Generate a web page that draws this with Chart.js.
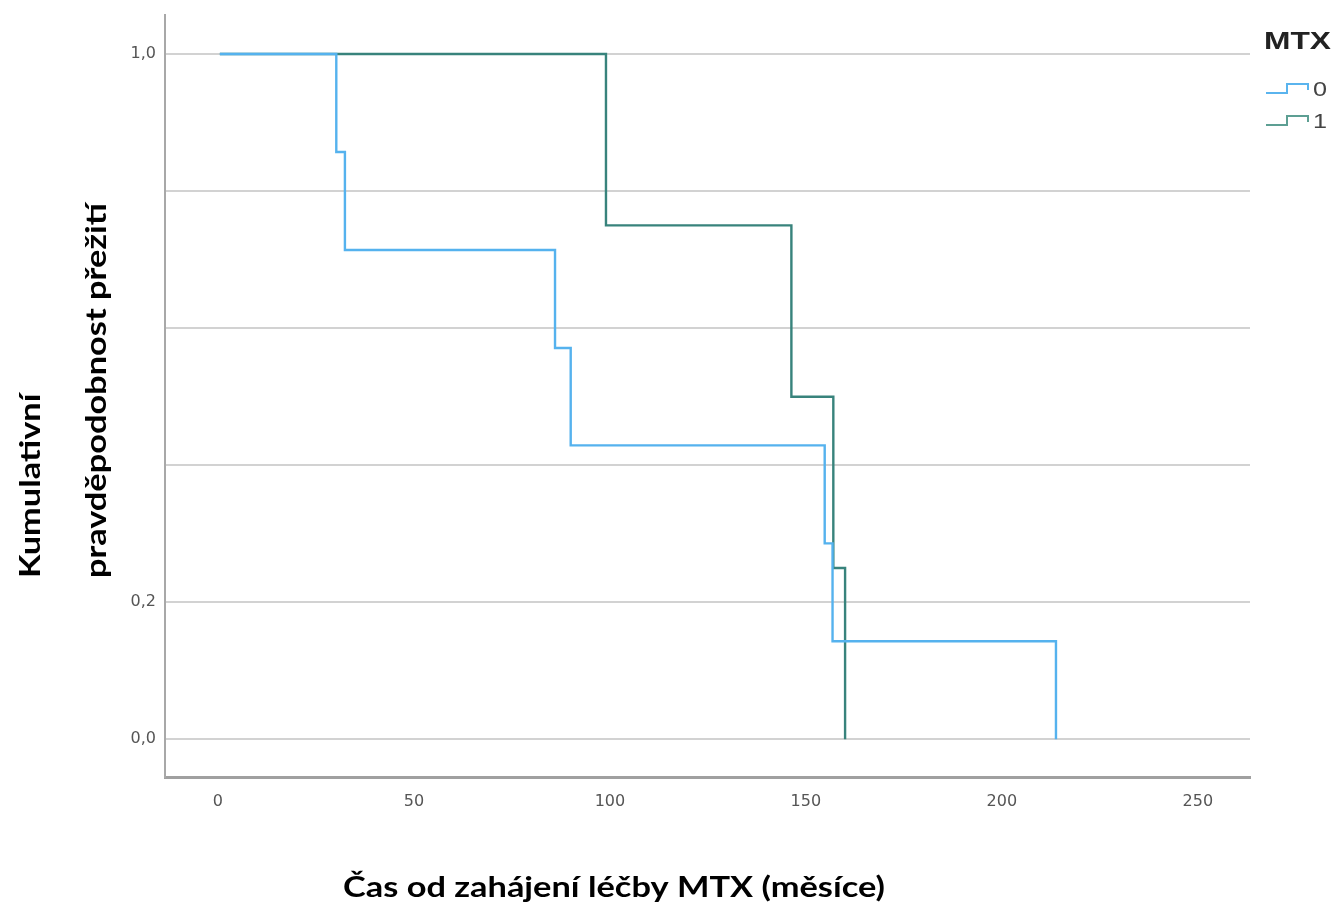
<!DOCTYPE html>
<html>
<head>
<meta charset="utf-8">
<script src="https://cdn.jsdelivr.net/npm/chart.js@4/dist/chart.umd.min.js"></script>
<style>
html,body{margin:0;padding:0;background:#fff;}
#wrap{position:relative;width:1334px;height:907px;}
</style>
</head>
<body>
<div id="wrap"><canvas id="c" width="1334" height="907"></canvas></div>
<script>
// Data (Kaplan–Meier curves)
const groupLabels = ['0', '1'];
const legendTitle = 'MTX';
const mtx0Times  = [0.5, 30.2, 32.4, 86, 90, 154.8, 156.8, 213.8];
const mtx0Surv   = [1.0, 0.857, 0.714, 0.571, 0.429, 0.286, 0.143, 0.0];
const mtx1Times  = [0.5, 99, 146.3, 157, 160];
const mtx1Surv   = [1.0, 0.75, 0.5, 0.25, 0.0];
const xTicks = [0, 50, 100, 150, 200, 250];
const yGrid  = [0, 0.2, 0.4, 0.6, 0.8, 1.0];
const yLabeled = [0, 0.2, 1.0];
const xTitle = 'Čas od zahájení léčby MTX (měsíce)';
const yTitle1 = 'Kumulativní';
const yTitle2 = 'pravděpodobnost přežití';

const colors = ['#55b2ee', '#38837c'];
const legendColors = ['#5ab4ee', '#5d9f93'];

function toPts(t, s){ return t.map((v,i)=>({x:v, y:s[i]})); }

const titlesPlugin = {
  id: 'titles',
  afterDraw(chart){
    const ctx = chart.ctx;
    ctx.save();
    ctx.fillStyle = '#000';
    let fs = 29;
    ctx.font = 'bold ' + fs + 'px Lato, "Open Sans", sans-serif';
    const w = ctx.measureText(xTitle).width;
    const sx = 542 / w;
    ctx.textBaseline = 'alphabetic';
    ctx.textAlign = 'center';
    ctx.save();
    ctx.translate(614, 897);
    ctx.scale(sx, 1);
    ctx.fillText(xTitle, 0, 0);
    ctx.restore();
    ctx.textAlign = 'left';
    [[40, yTitle1], [106, yTitle2]].forEach(([x, t]) => {
      ctx.save();
      ctx.translate(x, 578);
      ctx.rotate(-Math.PI/2);
      ctx.scale(sx, 1);
      ctx.fillText(t, 0, 0);
      ctx.restore();
    });
    ctx.textBaseline = 'middle';
    ctx.save();
    ctx.font = 'bold 23px "Liberation Sans", Arial, sans-serif';
    ctx.fillStyle = '#222';
    ctx.textAlign = 'left';
    ctx.translate(1264, 43);
    ctx.scale(1.38, 1);
    ctx.fillText(legendTitle, 0, 0);
    ctx.restore();
    ctx.font = '21px "Liberation Sans", Arial, sans-serif';
    groupLabels.forEach((lab, i) => {
      const yb = 93 + i*32;
      ctx.strokeStyle = legendColors[i];
      ctx.lineWidth = 2;
      ctx.beginPath();
      ctx.moveTo(1266, yb);
      ctx.lineTo(1287, yb);
      ctx.lineTo(1287, yb-9);
      ctx.lineTo(1308, yb-9);
      ctx.lineTo(1308, yb-3);
      ctx.stroke();
      ctx.fillStyle = '#444';
      ctx.save();
      ctx.translate(1313, yb-3);
      ctx.scale(1.2, 1);
      ctx.fillText(lab, 0, 0);
      ctx.restore();
    });
    ctx.restore();
  }
};

new Chart(document.getElementById('c'), {
  type: 'line',
  data: {
    datasets: [
      { label: groupLabels[0], data: toPts(mtx0Times, mtx0Surv), borderColor: colors[0], borderWidth: 2.4, stepped: 'before', pointRadius: 0, fill: false },
      { label: groupLabels[1], data: toPts(mtx1Times, mtx1Surv), borderColor: colors[1], borderWidth: 2.4, stepped: 'before', pointRadius: 0, fill: false }
    ]
  },
  options: {
    responsive: false,
    animation: false,
    layout: { padding: { left: 0, top: 15, right: 84, bottom: 0 } },
    plugins: { legend: { display: false }, tooltip: { enabled: false } },
    scales: {
      x: {
        type: 'linear',
        min: -13.5, max: 263.3,
        afterBuildTicks(s){ s.ticks = xTicks.map(v=>({value:v})); },
        afterFit(s){ s.height = 130; s.paddingLeft = 0; s.paddingRight = 0; },
        grid: { display: false, drawTicks: false },
        border: { color: '#a0a0a0', width: 3 },
        ticks: { color: '#555', font: { family: '"DejaVu Sans", sans-serif', size: 16 }, padding: 15, maxRotation: 0,
                 callback: v => String(v) }
      },
      y: {
        type: 'linear',
        min: -0.055, max: 1.057,
        afterBuildTicks(s){ s.ticks = yGrid.map(v=>({value:v})); },
        afterFit(s){ s.width = 165; s.paddingTop = 0; s.paddingBottom = 0; },
        grid: { color: '#d2d2d2', lineWidth: 2, drawTicks: false },
        border: { color: '#a8a8a8', width: 2 },
        ticks: { color: '#555', font: { family: '"DejaVu Sans", sans-serif', size: 16 }, padding: 9,
                 callback: v => yLabeled.some(l => Math.abs(l-v) < 1e-9) ? v.toFixed(1).replace('.', ',') : '' }
      }
    }
  },
  plugins: [titlesPlugin]
});
</script>
</body>
</html>
